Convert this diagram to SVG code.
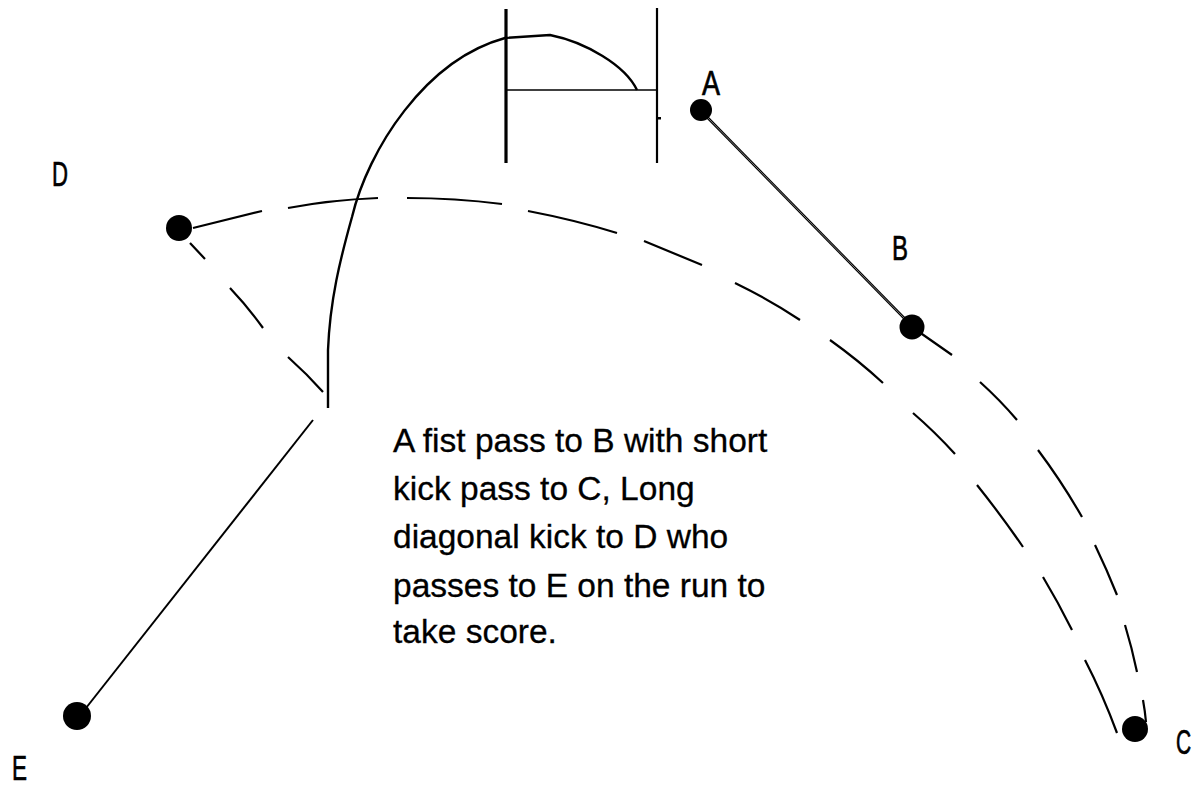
<svg xmlns="http://www.w3.org/2000/svg" width="1196" height="787" viewBox="0 0 1196 787">
<style>
.ln{fill:none;stroke:#000;stroke-linecap:butt;stroke-linejoin:round}
.dash{stroke-width:2.2}
.ball{fill:#000}
.lbl{font-family:"Liberation Sans",Arial,sans-serif;font-size:35px;fill:#000;stroke:#000;stroke-width:0.7}
.para{font-family:"Liberation Sans",Arial,sans-serif;font-size:33.5px;fill:#000;stroke:#000;stroke-width:0.3}
</style>
<rect width="1196" height="787" fill="#fff"/>
<g id="goal">
<line class="ln" x1="506" y1="9" x2="506" y2="163" stroke-width="3.2"/>
<line class="ln" x1="657" y1="8" x2="657" y2="163" stroke-width="2.2"/>
<line class="ln" x1="507" y1="90" x2="657" y2="90" stroke-width="1.6"/>
<rect x="658" y="117" width="3" height="2.5" fill="#000"/>
</g>
<g id="connectors">
<path id="kick-arc" class="ln" stroke-width="2.4" d="M328,408 L328,350 C330,300 340,260 352,217 C368,150 425,60 505,38 L550,35 C585,42 625,65 637,90"/>
<path id="long-kick" class="ln dash" d="M193,228 L262,211 M288,208 Q330,200 378,198 M407,198 Q455,198 502,204 M528,211 Q575,220 617,233 M644,241 L702,265 M735,283 Q770,300 800,320 M830,340 Q858,360 883,383 M913,413 Q935,432 955,454 M977,485 Q1001,515 1023,547 M1043,577 Q1058,602 1072,630 M1085,660 Q1103,695 1117,733"/>
<path id="fist-pass" class="ln" stroke-width="2.6" d="M706,116 L906,320"/>
<path id="fist-pass-inner" fill="none" stroke="#999" stroke-width="0.8" d="M706,116 L906,320"/>
<path id="short-kick" class="ln dash" d="M912,327 L952,355 M980,382 Q1000,400 1017,420 M1038,450 Q1062,482 1082,517 M1095,545 Q1107,570 1117,595 M1125,625 Q1132,648 1137,672 M1143,700 Q1145,711 1146,722"/>
<path id="d-to-e" class="ln dash" d="M190,243 L205,259 M230,288 Q248,307 263,328 M288,357 Q307,374 323,392"/>
<path id="e-run" class="ln" stroke-width="2" d="M313,420 L86,708"/>
</g>
<g id="node-A"><circle class="ball" cx="701" cy="110" r="11"/><text class="lbl" x="702" y="95" textLength="18" lengthAdjust="spacingAndGlyphs">A</text></g>
<g id="node-B"><circle class="ball" cx="912" cy="327" r="12.5"/><text class="lbl" x="892" y="260" textLength="16" lengthAdjust="spacingAndGlyphs">B</text></g>
<g id="node-C"><circle class="ball" cx="1135" cy="729" r="13"/><text class="lbl" transform="translate(1176,754) scale(0.6,1)" x="0" y="0">C</text></g>
<g id="node-D"><circle class="ball" cx="179" cy="228" r="13"/><text class="lbl" x="52" y="186" textLength="16" lengthAdjust="spacingAndGlyphs">D</text></g>
<g id="node-E"><circle class="ball" cx="77" cy="716" r="14"/><text class="lbl" x="12" y="780" textLength="15" lengthAdjust="spacingAndGlyphs">E</text></g>
<g id="caption">
<text class="para" x="393" y="452">A fist pass to B with short</text>
<text class="para" x="393" y="500">kick pass to C, Long</text>
<text class="para" x="393" y="548">diagonal kick to D who</text>
<text class="para" x="393" y="597">passes to E on the run to</text>
<text class="para" x="393" y="643">take score.</text>
</g>
</svg>
